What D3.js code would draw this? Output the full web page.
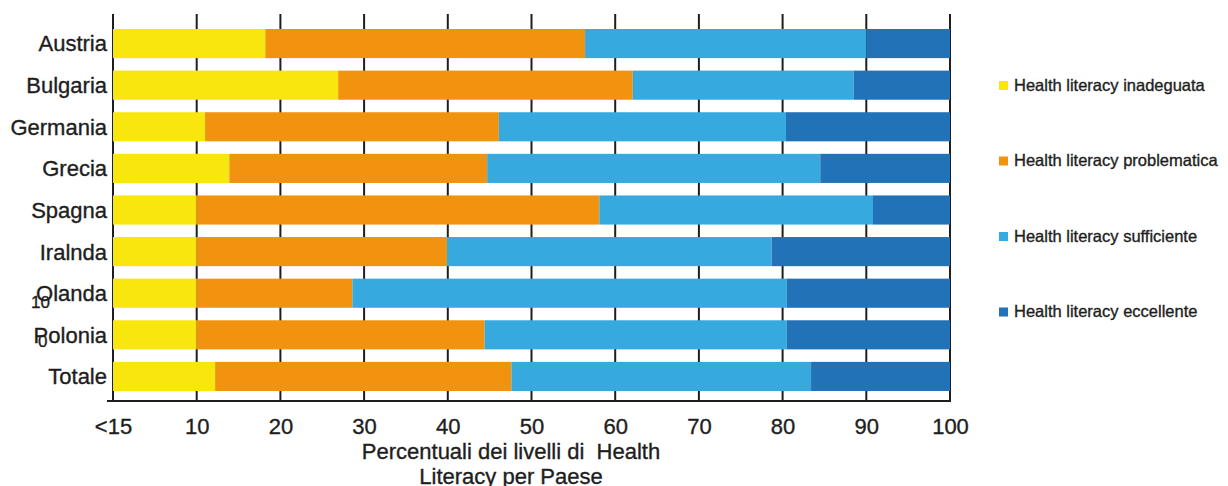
<!DOCTYPE html>
<html>
<head>
<meta charset="utf-8">
<script src="https://cdn.jsdelivr.net/npm/d3@7"></script>
<style>
  html, body { margin: 0; padding: 0; background: #fff; }
  svg { display: block; font-family: "Liberation Sans", Arial, sans-serif; }
  svg text { stroke: #1e1e1e; stroke-width: 0.35px; }
</style>
</head>
<body>
<div id="chart"></div>
<script>
// Categories (top to bottom)
const countries = ["Austria", "Bulgaria", "Germania", "Grecia", "Spagna", "Iralnda", "Olanda", "Polonia", "Totale"];

// Share of each Health Literacy level per country (%)
const inadeguata    = [18.2, 26.9, 11.0, 13.9, 10.0, 10.0, 10.0, 10.0, 12.2];
const problematica  = [38.2, 35.2, 35.1, 30.8, 48.1, 29.9, 18.6, 34.4, 35.4];
const sufficiente   = [33.6, 26.4, 34.3, 39.8, 32.7, 38.8, 51.9, 36.1, 35.8];
const eccellente    = [10.0, 11.5, 19.6, 15.5,  9.2, 21.3, 19.5, 19.5, 16.6];

const seriesNames = [
  "Health literacy inadeguata",
  "Health literacy problematica",
  "Health literacy sufficiente",
  "Health literacy eccellente"
];
const seriesColors = ["#F8E60E", "#F29310", "#36AADF", "#2272B8"];

// X axis ticks and their labels
const tickValues = [0, 10, 20, 30, 40, 50, 60, 70, 80, 90, 100];
const tickLabels = ["<15", "10", "20", "30", "40", "50", "60", "70", "80", "90", "100"];

const axisTitle = ["Percentuali dei livelli di  Health", "Literacy per Paese"];

const W = 1228, H = 486;
const svg = d3.select("#chart").append("svg").attr("width", W).attr("height", H);

const x = d3.scaleLinear().domain([0, 100]).range([113, 950]);
const y = d3.scaleBand().domain(countries).range([29, 391]).paddingInner(0.3).paddingOuter(0);

const rows = countries.map((c, i) => ({
  country: c,
  s0: inadeguata[i], s1: problematica[i], s2: sufficiente[i], s3: eccellente[i]
}));
const stacked = d3.stack().keys(["s0", "s1", "s2", "s3"])(rows);

const ink = "#1e1e1e";

// Vertical grid lines
svg.append("g").selectAll("line").data(tickValues).join("line")
  .attr("x1", d => x(d)).attr("x2", d => x(d))
  .attr("y1", 14).attr("y2", 401)
  .attr("stroke", ink).attr("stroke-width", 2);

// Stacked bars
svg.append("g").selectAll("g").data(stacked).join("g")
  .attr("fill", (d, i) => seriesColors[i])
  .selectAll("rect").data(d => d).join("rect")
  .attr("x", d => x(d[0]))
  .attr("width", d => x(d[1]) - x(d[0]))
  .attr("y", d => y(d.data.country))
  .attr("height", y.bandwidth());

// Bottom axis
const xAxis = d3.axisBottom(x).tickValues(tickValues)
  .tickFormat((d, i) => tickLabels[i]).tickSize(0).tickPadding(17);
const gx = svg.append("g").attr("transform", "translate(0,401)").call(xAxis);
gx.select(".domain").remove();
gx.selectAll("text").attr("font-size", 22).attr("fill", ink)
  .attr("font-family", "Liberation Sans, Arial, sans-serif");
svg.append("line").attr("x1", 107).attr("x2", x(100) + 1).attr("y1", 401).attr("y2", 401)
  .attr("stroke", ink).attr("stroke-width", 2);

// Category labels
svg.append("g").selectAll("text").data(countries).join("text")
  .attr("x", 107)
  .attr("y", d => y(d) + y.bandwidth() / 2)
  .attr("dy", "0.36em")
  .attr("text-anchor", "end")
  .attr("font-size", 22)
  .attr("fill", ink)
  .text(d => d);

// Leftover value labels on the left side
svg.append("text").attr("x", 31).attr("y", 308).attr("font-size", 17).attr("fill", ink).text("10");
svg.append("text").attr("x", 38).attr("y", 347).attr("font-size", 17).attr("fill", ink).text("0");

// Axis title
svg.append("g").selectAll("text").data(axisTitle).join("text")
  .attr("x", 511)
  .attr("y", (d, i) => 459 + i * 25)
  .attr("text-anchor", "middle")
  .attr("font-size", 22)
  .attr("fill", ink)
  .style("white-space", "pre")
  .text(d => d);

// Legend
const legend = svg.append("g").selectAll("g").data(seriesNames).join("g")
  .attr("transform", (d, i) => `translate(999,${81 + i * 75.5})`);
legend.append("rect").attr("width", 9).attr("height", 9)
  .attr("fill", (d, i) => seriesColors[i]);
legend.append("text").attr("x", 15).attr("y", 9.5)
  .attr("font-size", 16.5).attr("fill", ink).text(d => d);
</script>
</body>
</html>
